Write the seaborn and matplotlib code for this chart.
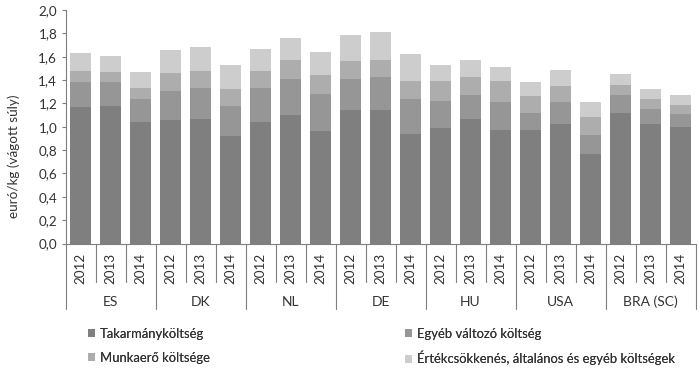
import numpy as np
import pandas as pd
import matplotlib
matplotlib.use("Agg")
import matplotlib.pyplot as plt
import matplotlib.transforms as mtransforms
from matplotlib.patches import Patch
import seaborn as sns

countries = ["ES", "DK", "NL", "DE", "HU", "USA", "BRA (SC)"]
years = ["2012", "2013", "2014"]

series_names = ["Takarmányköltség", "Egyéb változó költség",
                "Munkaerő költsége", "Értékcsökkenés, általános és egyéb költségek"]

feed = [1.17, 1.18, 1.04, 1.06, 1.07, 0.92, 1.04, 1.10, 0.96, 1.14, 1.14, 0.94,
        0.99, 1.07, 0.97, 0.97, 1.02, 0.77, 1.12, 1.02, 1.00]
other_var = [0.21, 0.20, 0.20, 0.25, 0.26, 0.26, 0.29, 0.31, 0.32, 0.27, 0.29, 0.30,
             0.23, 0.20, 0.24, 0.15, 0.19, 0.16, 0.15, 0.13, 0.11]
labour = [0.10, 0.09, 0.09, 0.15, 0.15, 0.14, 0.15, 0.16, 0.16, 0.15, 0.14, 0.15,
          0.17, 0.16, 0.18, 0.14, 0.14, 0.15, 0.09, 0.09, 0.08]
depreciation = [0.15, 0.14, 0.14, 0.20, 0.20, 0.21, 0.19, 0.19, 0.20, 0.23, 0.24, 0.23,
                0.14, 0.14, 0.12, 0.12, 0.14, 0.13, 0.09, 0.08, 0.08]

colors = ["#7f7f7f", "#969696", "#adadad", "#cdcdcd"]

sns.set_theme(style="white")
plt.rcParams["font.family"] = ["Lato", "DejaVu Sans"]
plt.rcParams["font.weight"] = "normal"
text_color = "#333333"
line_color = "#7f7f7f"
FS = 9.4

keys = [f"{c}|{y}" for c in countries for y in years]
df = pd.DataFrame({"key": keys, "feed": feed, "other": other_var,
                   "labour": labour, "depr": depreciation})
df["c1"] = df["feed"]
df["c2"] = df["c1"] + df["other"]
df["c3"] = df["c2"] + df["labour"]
df["c4"] = df["c3"] + df["depr"]

fig = plt.figure(figsize=(7.0, 3.69), dpi=100)
ax = fig.add_axes([65.5 / 700, 1 - 243.5 / 369, 630 / 700, 233.5 / 369])

for col, colr in zip(["c4", "c3", "c2", "c1"], colors[::-1]):
    sns.barplot(data=df, x="key", y=col, color=colr, width=0.7,
                saturation=1, ax=ax, order=keys, linewidth=0)

ax.set_xlim(-0.5, len(keys) - 0.5)
ax.set_ylim(0, 2.0)
yt = np.round(np.arange(0, 2.01, 0.2), 1)
ax.set_yticks(yt)
ax.set_yticklabels([f"{v:.1f}".replace(".", ",") for v in yt], fontsize=FS + 0.3,
                   color=text_color)
ax.set_xticks(range(len(keys)))
ax.set_xticklabels([k.split("|")[1] for k in keys], rotation=90, fontsize=FS + 0.3,
                   color=text_color)
ax.tick_params(axis="x", length=0, pad=7)
ax.tick_params(axis="y", length=3, width=0.8, color=line_color, left=True, pad=3)
ax.set_xlabel("")
ax.set_ylabel("")
for s in ["top", "right"]:
    ax.spines[s].set_visible(False)
for s in ["left", "bottom"]:
    ax.spines[s].set_color(line_color)
    ax.spines[s].set_linewidth(0.8)

# multi-level category axis dividers
trans = mtransforms.blended_transform_factory(ax.transData, ax.transAxes)
short_len = 38.5 / 233.5
long_len = 65.5 / 233.5
for i in range(len(keys) + 1):
    xb = i - 0.5
    ln = long_len if i % 3 == 0 else short_len
    ax.plot([xb, xb], [0, -ln], transform=trans, color=line_color, lw=0.8,
            clip_on=False)
for gi, c in enumerate(countries):
    ax.text(gi * 3 + 1, -58.5 / 233.5, c, transform=trans, ha="center", va="center",
            fontsize=FS + 0.6, color=text_color)

fig.text(14 / 700, 1 - 156 / 369, "euró/kg (vágott súly)", rotation=90,
         ha="center", va="center", fontsize=FS + 0.3, color=text_color)

# legend: manual placement of two columns
handles = [Patch(facecolor=c, edgecolor="none") for c in colors]
col_x = [88 / 700, 405 / 700]
row_y = [1 - 333.5 / 369, 1 - 358 / 369]
pos = [(0, 0), (1, 0), (0, 1), (1, 1)]
for h, name, (ci, ri) in zip(handles, series_names, pos):
    leg = fig.legend([h], [name], loc="center left",
                     bbox_to_anchor=(col_x[ci], row_y[ri]),
                     frameon=False, fontsize=FS, handlelength=0.55, handleheight=0.55,
                     handletextpad=0.35, borderaxespad=0, borderpad=0)
    for t in leg.get_texts():
        t.set_color(text_color)
    fig.add_artist(leg)

fig.savefig("out.png", dpi=100)
